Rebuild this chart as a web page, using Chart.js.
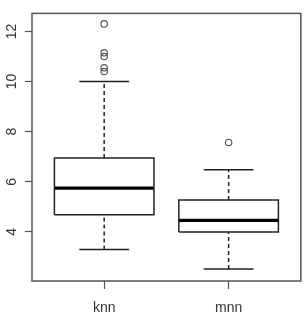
<!DOCTYPE html>
<html>
<head>
<meta charset="utf-8">
<script src="https://cdn.jsdelivr.net/npm/chart.js@4"></script>
<style>
  body { margin: 0; background: #fff; }
  canvas { display: block; }
</style>
</head>
<body>
<canvas id="boxChart" width="306" height="314"></canvas>
<script>
// values
const categories = ['knn', 'mnn'];
const lowerWhisker = [3.3, 2.52];
const lowerQuartile = [4.68, 4.0];
const medians = [5.75, 4.46];
const upperQuartile = [6.95, 5.27];
const upperWhisker = [10.0, 6.48];
const outliers = [[12.3, 11.15, 11.0, 10.55, 10.4], [7.57]];
const yTicks = [4, 6, 8, 10, 12];

const lineColor = '#222';
const frameColor = '#555';

// build line datasets for each box
const datasets = [];
categories.forEach((cat, i) => {
    const x = i + 1;
    const half = 0.4;
    const cap = 0.2;
    const seg = (pts, extra) => Object.assign({
        data: pts,
        showLine: true,
        borderColor: lineColor,
        borderWidth: 1.5,
        pointRadius: 0,
        fill: false
    }, extra || {});

    // box
    datasets.push(seg([
        { x: x - half, y: lowerQuartile[i] },
        { x: x + half, y: lowerQuartile[i] },
        { x: x + half, y: upperQuartile[i] },
        { x: x - half, y: upperQuartile[i] },
        { x: x - half, y: lowerQuartile[i] }
    ]));
    // median
    datasets.push(seg([
        { x: x - half, y: medians[i] },
        { x: x + half, y: medians[i] }
    ], { borderWidth: 3.2, borderColor: '#000' }));
    // whiskers (dashed)
    datasets.push(seg([
        { x: x, y: upperQuartile[i] },
        { x: x, y: upperWhisker[i] }
    ], { borderDash: [4, 3] }));
    datasets.push(seg([
        { x: x, y: lowerWhisker[i] },
        { x: x, y: lowerQuartile[i] }
    ], { borderDash: [4, 3] }));
    // caps
    datasets.push(seg([
        { x: x - cap, y: upperWhisker[i] },
        { x: x + cap, y: upperWhisker[i] }
    ]));
    datasets.push(seg([
        { x: x - cap, y: lowerWhisker[i] },
        { x: x + cap, y: lowerWhisker[i] }
    ]));
    // outliers
    datasets.push({
        data: outliers[i].map(v => ({ x: x, y: v })),
        showLine: false,
        pointRadius: 3.2,
        pointBorderWidth: 1.2,
        pointBorderColor: frameColor,
        pointBackgroundColor: 'rgba(0,0,0,0)'
    });
});

// draw the full box around the plot region
const framePlugin = {
    id: 'frame',
    afterDraw(chart) {
        const a = chart.chartArea;
        const ctx = chart.ctx;
        ctx.save();
        ctx.strokeStyle = frameColor;
        ctx.lineWidth = 1.5;
        ctx.strokeRect(a.left, a.top, a.right - a.left, a.bottom - a.top);
        ctx.restore();
    }
};

const ctx = document.getElementById('boxChart').getContext('2d');
new Chart(ctx, {
    type: 'scatter',
    data: { datasets: datasets },
    plugins: [framePlugin],
    options: {
        responsive: false,
        animation: false,
        layout: { padding: { top: 7, right: 1, left: 0, bottom: 0 } },
        plugins: {
            legend: { display: false },
            tooltip: { enabled: false }
        },
        scales: {
            x: {
                type: 'linear',
                min: 0.42,
                max: 2.58,
                afterBuildTicks: scale => {
                    scale.ticks = categories.map((c, i) => ({ value: i + 1 }));
                },
                afterFit: scale => { scale.height = 33; },
                ticks: {
                    callback: v => categories[v - 1],
                    font: { family: 'Liberation Sans', size: 14 },
                    color: '#333',
                    padding: 11,
                    maxRotation: 0
                },
                grid: {
                    drawOnChartArea: false,
                    drawTicks: true,
                    tickLength: 8,
                    tickColor: frameColor,
                    tickWidth: 1.2
                },
                border: { display: false }
            },
            y: {
                min: 2.04,
                max: 12.72,
                afterBuildTicks: scale => {
                    scale.ticks = yTicks.map(v => ({ value: v }));
                },
                afterFit: scale => { scale.width = 32; },
                ticks: {
                    minRotation: 90,
                    maxRotation: 90,
                    crossAlign: 'center',
                    font: { family: 'Liberation Sans', size: 14 },
                    color: '#333',
                    padding: 5
                },
                grid: {
                    drawOnChartArea: false,
                    drawTicks: true,
                    tickLength: 7,
                    tickColor: frameColor,
                    tickWidth: 1.2
                },
                border: { display: false }
            }
        }
    }
});
</script>
</body>
</html>
